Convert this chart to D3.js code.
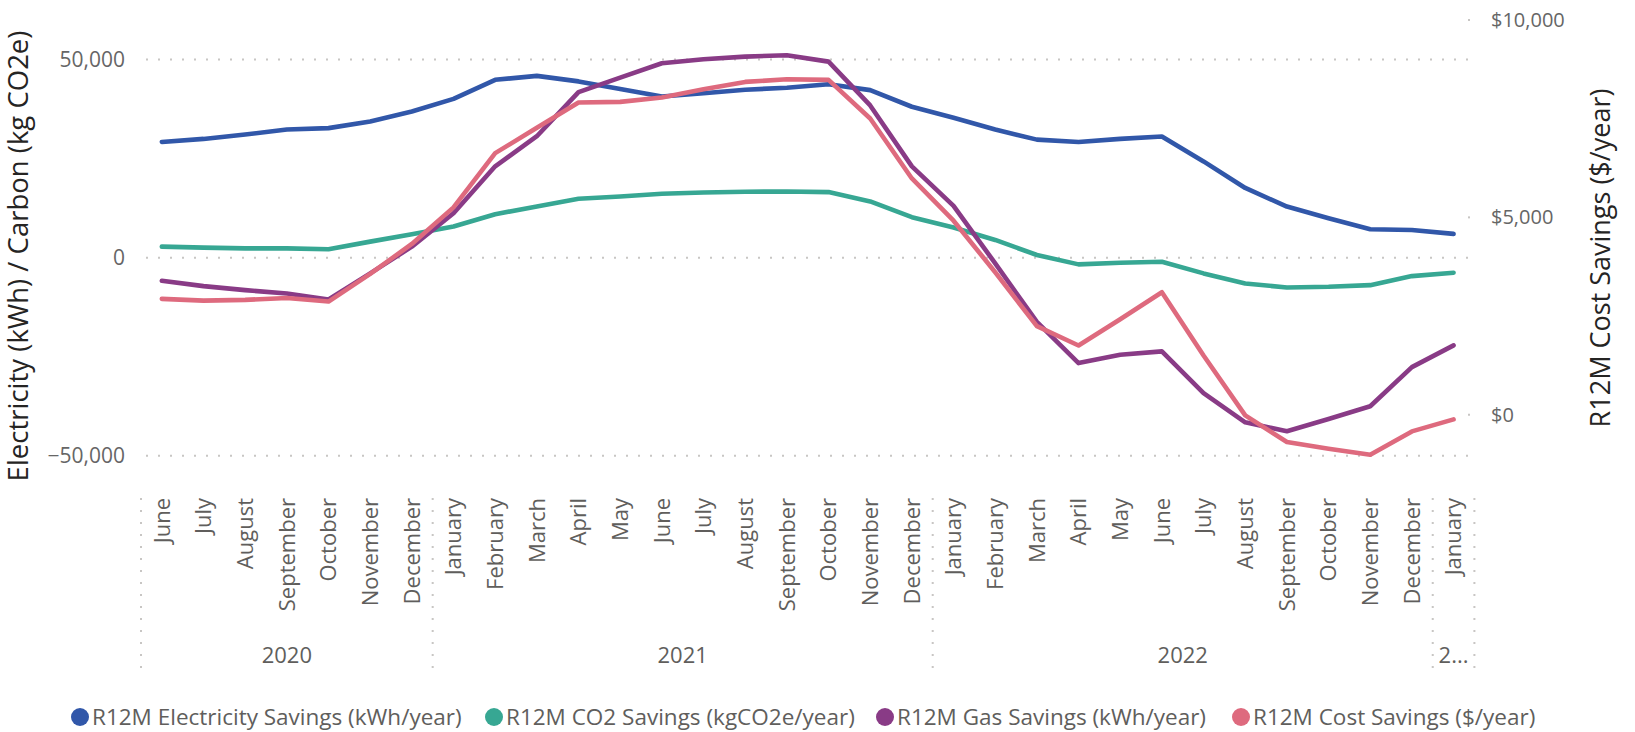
<!DOCTYPE html>
<html>
<head>
<meta charset="utf-8">
<script src="https://cdn.jsdelivr.net/npm/d3@7"></script>
<style>
  body { margin: 0; background: #fff; }
  svg text { font-family: "Open Sans", "Noto Sans", sans-serif; }
</style>
</head>
<body>
<div id="chart"></div>
<script>
var w = 1635,
	h = 732,
	plotTop = 20,
	plotBottom = 470;

var monthNames = ['June','July','August','September','October','November','December',
	'January','February','March','April','May','June','July','August','September','October','November','December',
	'January','February','March','April','May','June','July','August','September','October','November','December',
	'January'];
var yearLabels = ['2020', '2021', '2022', '2...'];
var yearSpans = [7, 12, 12, 1];

var electricity = [29220, 29980, 31080, 32350, 32700, 34400, 36900,
	40100, 44900, 45900, 44500, 42600, 40700, 41500, 42400, 42900, 43800, 42300, 38100,
	35300, 32350, 29800, 29220, 29980, 30600, 24300, 17600, 12900, 9970, 7180, 7000,
	6000];
var co2 = [2790, 2530, 2360, 2360, 2110, 4050, 5910,
	7860, 10980, 12920, 14860, 15460, 16130, 16470, 16640, 16720, 16550, 14190, 10220,
	7600, 4480, 680, -1690, -1270, -1010, -3970, -6500, -7520, -7350, -6930, -4650,
	-3800];
var gas = [-5830, -7180, -8190, -9040, -10560, -3970, 2790,
	11230, 23060, 30660, 41810, 45440, 49070, 50080, 50760, 51100, 49490, 38430, 23060,
	13090, -1440, -16220, -26610, -24490, -23650, -34210, -41550, -43830, -40710, -37500, -27620,
	-22130];
var cost = [2934, 2892, 2909, 2959, 2867, 3567, 4326,
	5253, 6627, 7270, 7909, 7926, 8035, 8246, 8432, 8499, 8482, 7504, 5986,
	4916, 3609, 2243, 1754, 2420, 3103, 1501, -17, -691, -860, -1012, -422,
	-118];

var leftTicks = [-50000, 0, 50000];
var rightTicks = [0, 5000, 10000];

var series = [
	{ name: 'R12M Electricity Savings (kWh/year)', values: electricity, color: '#3157a9', axis: 'left' },
	{ name: 'R12M CO2 Savings (kgCO2e/year)', values: co2, color: '#37a793', axis: 'left' },
	{ name: 'R12M Gas Savings (kWh/year)', values: gas, color: '#893b86', axis: 'left' },
	{ name: 'R12M Cost Savings ($/year)', values: cost, color: '#de6a7e', axis: 'right' }
];

var svg = d3.select('#chart').append('svg')
	.attr('width', w)
	.attr('height', h);

var x = d3.scaleBand()
	.domain(d3.range(monthNames.length))
	.range([141, 1474.4])
	.padding(0);

var yLeft = d3.scaleLinear().domain([-53600, 60000]).range([plotBottom, plotTop]);
var yRight = d3.scaleLinear().domain([-1400, 10000]).range([plotBottom, plotTop]);

function cx(i) { return x(i) + x.bandwidth() / 2; }

// gridlines
svg.append('g').selectAll('line')
	.data(leftTicks)
	.enter().append('line')
	.attr('x1', 146)
	.attr('x2', 1468)
	.attr('y1', function(d) { return yLeft(d); })
	.attr('y2', function(d) { return yLeft(d); })
	.style('stroke', '#c8c6c4')
	.style('stroke-width', 2)
	.style('stroke-dasharray', '2,10');

// left tick labels
svg.append('g').selectAll('text')
	.data(leftTicks)
	.enter().append('text')
	.attr('x', 125)
	.attr('y', function(d) { return yLeft(d); })
	.attr('dy', '0.35em')
	.attr('text-anchor', 'end')
	.style('font-size', '21px')
	.style('fill', '#666666')
	.text(d3.format(','));

// right tick marks + labels
var rt = svg.append('g').selectAll('g')
	.data(rightTicks)
	.enter().append('g')
	.attr('transform', function(d) { return 'translate(0,' + yRight(d) + ')'; });
rt.append('rect')
	.attr('x', 1468).attr('y', -1).attr('width', 2).attr('height', 2)
	.style('fill', '#c8c6c4');
rt.append('text')
	.attr('x', 1491)
	.attr('dy', '0.35em')
	.style('font-size', '20px')
	.style('fill', '#666666')
	.text(function(d) { return '$' + d3.format(',')(d); });

// axis titles
svg.append('text')
	.attr('transform', 'translate(28,256) rotate(-90)')
	.attr('text-anchor', 'middle')
	.style('font-size', '27.5px')
	.style('fill', '#252423')
	.text('Electricity (kWh) / Carbon (kg CO2e)');

svg.append('text')
	.attr('transform', 'translate(1610,258) rotate(-90)')
	.attr('text-anchor', 'middle')
	.style('font-size', '27px')
	.style('fill', '#252423')
	.text('R12M Cost Savings ($/year)');

// month labels
svg.append('g').selectAll('text')
	.data(monthNames)
	.enter().append('text')
	.attr('transform', function(d, i) { return 'translate(' + cx(i) + ',498) rotate(-90)'; })
	.attr('dy', '0.35em')
	.attr('text-anchor', 'end')
	.style('font-size', '22px')
	.style('fill', '#605e5c')
	.text(function(d) { return d; });

// year separators and labels
var starts = [0];
yearSpans.forEach(function(s, i) { starts.push(starts[i] + s); });
svg.append('g').selectAll('line')
	.data(starts)
	.enter().append('line')
	.attr('x1', function(d) { return d < monthNames.length ? x(d) : x(d - 1) + x.bandwidth(); })
	.attr('x2', function(d) { return d < monthNames.length ? x(d) : x(d - 1) + x.bandwidth(); })
	.attr('y1', 498)
	.attr('y2', 668)
	.style('stroke', '#c8c6c4')
	.style('stroke-width', 2)
	.style('stroke-dasharray', '2,10');

svg.append('g').selectAll('text')
	.data(yearLabels)
	.enter().append('text')
	.attr('x', function(d, i) {
		var a = x(starts[i]), b = x(starts[i + 1] - 1) + x.bandwidth();
		return (a + b) / 2;
	})
	.attr('y', 655)
	.attr('dy', '0.35em')
	.attr('text-anchor', 'middle')
	.style('font-size', '22px')
	.style('fill', '#605e5c')
	.text(function(d) { return d; });

// lines
var line = d3.line();
svg.append('g').selectAll('path')
	.data(series)
	.enter().append('path')
	.attr('d', function(s) {
		var sc = s.axis == 'left' ? yLeft : yRight;
		return line(s.values.map(function(v, i) { return [cx(i), sc(v)]; }));
	})
	.style('fill', 'none')
	.style('stroke', function(s) { return s.color; })
	.style('stroke-width', 4.6)
	.style('stroke-linejoin', 'round')
	.style('stroke-linecap', 'round');

// legend
var legendX = [80, 494, 885, 1241];
var lg = svg.append('g').selectAll('g')
	.data(series)
	.enter().append('g')
	.attr('transform', function(d, i) { return 'translate(' + legendX[i] + ',717)'; });
lg.append('circle')
	.attr('r', 9)
	.style('fill', function(d) { return d.color; });
lg.append('text')
	.attr('x', 12)
	.attr('dy', '0.35em')
	.style('font-size', '22.5px')
	.style('fill', '#605e5c')
	.text(function(d) { return d.name; });
</script>
</body>
</html>
